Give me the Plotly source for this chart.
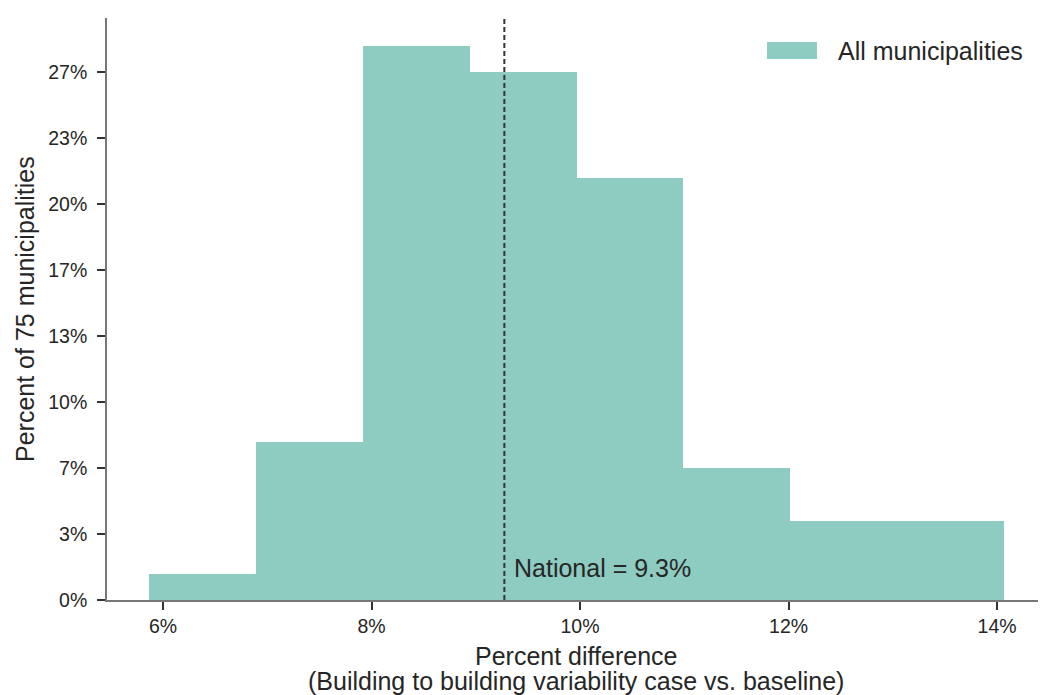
import plotly.graph_objects as go

# Data
bin_edges = [5.866, 6.891, 7.917, 8.942, 9.967, 10.992, 12.017, 13.042, 14.067]
counts = [1, 6, 21, 20, 16, 5, 3, 3]
n_municipalities = 75
national_value = 9.274
x_tick_vals = [6, 8, 10, 12, 14]
x_tick_text = ["6%", "8%", "10%", "12%", "14%"]
y_tick_vals = [0, 10/3, 20/3, 10, 40/3, 50/3, 20, 70/3, 80/3]
y_tick_text = ["0%", "3%", "7%", "10%", "13%", "17%", "20%", "23%", "27%"]

centers = [(a + b) / 2 for a, b in zip(bin_edges[:-1], bin_edges[1:])]
widths = [b - a for a, b in zip(bin_edges[:-1], bin_edges[1:])]
percents = [c / n_municipalities * 100 for c in counts]

BAR = "#8ECBC0"
TXT = "#262626"
FONT = "Liberation Sans, Arial, sans-serif"
FS = 25

fig = go.Figure()
fig.add_trace(go.Bar(
    x=centers, y=percents, width=widths,
    marker=dict(color=BAR, line=dict(width=0)),
    name="All municipalities", showlegend=False,
))

fig.add_shape(type="line", x0=national_value, x1=national_value, xref="x",
              y0=0, y1=1, yref="paper",
              line=dict(color="#333333", width=2, dash="5px,3px"))

# legend (custom, matplotlib-style patch)
fig.add_shape(type="rect", xref="paper", yref="paper",
              x0=0.7044, x1=0.7577, y0=0.9296, y1=0.9588,
              fillcolor=BAR, line=dict(width=0))
fig.add_annotation(text="All municipalities", xref="paper", yref="paper",
                   x=0.7780, y=0.9441, xanchor="left", yanchor="middle",
                   showarrow=False, font=dict(size=FS, color=TXT, family=FONT))

fig.add_annotation(text=f"National = {national_value:.1f}%", xref="x", yref="y",
                   x=national_value, y=1.62, xanchor="left", yanchor="middle",
                   xshift=8, showarrow=False,
                   font=dict(size=FS, color=TXT, family=FONT))

# axis titles
fig.add_annotation(text="Percent difference", xref="paper", yref="paper",
                   x=0.5, y=0, xanchor="center", yanchor="middle", yshift=-56,
                   showarrow=False, font=dict(size=FS, color=TXT, family=FONT))
fig.add_annotation(text="(Building to building variability case vs. baseline)",
                   xref="paper", yref="paper",
                   x=0.5, y=0, xanchor="center", yanchor="middle", yshift=-81,
                   showarrow=False, font=dict(size=FS, color=TXT, family=FONT))
fig.add_annotation(text="Percent of 75 municipalities", xref="paper", yref="paper",
                   x=0, y=0.5, xanchor="center", yanchor="middle", xshift=-82,
                   textangle=-90, showarrow=False,
                   font=dict(size=FS, color=TXT, family=FONT))

axis_common = dict(showgrid=False, zeroline=False, showline=True,
                   linecolor="#777777", linewidth=1.7,
                   ticks="outside", ticklen=8, tickwidth=1.6, tickcolor="#333333",
                   tickfont=dict(size=19.5, color=TXT, family=FONT))

# page has an 8px body margin, so the figure is sized/offset accordingly
fig.update_layout(
    width=1038, height=687,
    margin=dict(l=99, r=2, t=10, b=95),
    paper_bgcolor="white", plot_bgcolor="white",
    bargap=0, showlegend=False,
    font=dict(family=FONT, color=TXT),
    xaxis=dict(range=[5.463, 14.45], tickmode="array",
               tickvals=x_tick_vals, ticktext=x_tick_text, **axis_common),
    yaxis=dict(range=[0, 29.39], tickmode="array", ticklabelstandoff=6,
               tickvals=y_tick_vals, ticktext=y_tick_text, **axis_common),
)

fig.write_html("out.html")
